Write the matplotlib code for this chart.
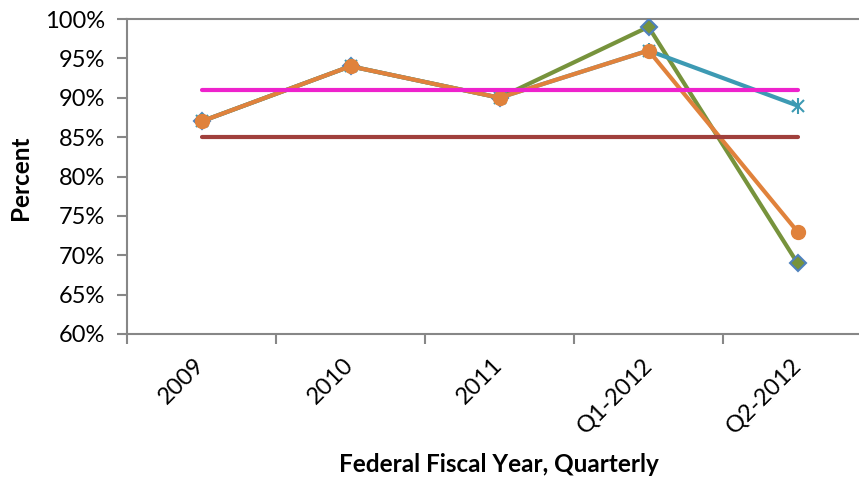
import matplotlib
matplotlib.use("Agg")
import matplotlib.pyplot as plt
from matplotlib.ticker import FuncFormatter

plt.rcParams['font.family'] = ['Lato', 'DejaVu Sans']

# chart data (percent)
categories = ['2009', '2010', '2011', 'Q1-2012', 'Q2-2012']
series_green = [87, 94, 90, 99, 69]
series_teal = [87, 94, 90, 96, 89]
series_orange = [87, 94, 90, 96, 73]
target_magenta = [91, 91, 91, 91, 91]
target_red = [85, 85, 85, 85, 85]
y_ticks = [60, 65, 70, 75, 80, 85, 90, 95, 100]

W, H = 859, 479
fig = plt.figure(figsize=(W / 100, H / 100), dpi=100)
ax = fig.add_axes([127 / W, 1 - 334 / H, 745 / W, 315 / H])

x = list(range(len(categories)))
lw = 3.0

ax.plot(x, series_green, color='#77933C', lw=lw, marker='D', markersize=8,
        markerfacecolor='#77933C', markeredgecolor='#4F81BD', markeredgewidth=1.5, zorder=3)
ax.plot(x, series_teal, color='#3D9AB3', lw=lw, marker='x', markersize=9,
        markeredgecolor='#3D9AB3', markeredgewidth=1.5, zorder=4)
ax.plot(x, series_teal, lw=0, marker='|', markersize=12,
        markeredgecolor='#3D9AB3', markeredgewidth=1.5, zorder=4)
ax.plot(x, series_orange, color='#E0823C', lw=lw, marker='o', markersize=10,
        markerfacecolor='#E0823C', markeredgecolor='#E0823C', zorder=5)
ax.plot(x, target_magenta, color='#EE22CC', lw=lw, solid_capstyle='round', zorder=6)
ax.plot(x, target_red, color='#A0403C', lw=lw, solid_capstyle='round', zorder=6)

ax.set_xlim(-0.5, len(categories) - 0.5)
ax.set_ylim(60, 100)

grey = '#878787'
ax.spines['right'].set_visible(False)
for side in ['left', 'bottom', 'top']:
    ax.spines[side].set_color(grey)
    ax.spines[side].set_linewidth(1.5)

ax.set_yticks(y_ticks)
ax.yaxis.set_major_formatter(FuncFormatter(lambda v, p: '%d%%' % v))
ax.tick_params(axis='y', direction='out', length=7, width=1.5, color=grey,
               labelsize=17, pad=9, labelcolor='black')

ax.set_xticks([i - 0.5 for i in range(len(categories) + 1)])
ax.set_xticklabels([])
ax.set_xticks(x, minor=True)
ax.set_xticklabels(categories, minor=True)
ax.tick_params(axis='x', which='major', direction='out', length=7, width=1.5, color=grey)
ax.tick_params(axis='x', which='minor', length=0, labelsize=17, pad=20)
for lab in ax.get_xticklabels(minor=True):
    lab.set_rotation(45)
    lab.set_ha('right')
    lab.set_va('center')
    lab.set_rotation_mode('anchor')

fig.text(499 / W, 1 - 465 / H, 'Federal Fiscal Year, Quarterly', ha='center', va='center',
         fontsize=17.5, fontweight='bold')
fig.text(20 / W, 1 - 178 / H, 'Percent', ha='center', va='center', rotation=90,
         fontsize=17.5, fontweight='bold')

fig.savefig('out.png', dpi=100)
